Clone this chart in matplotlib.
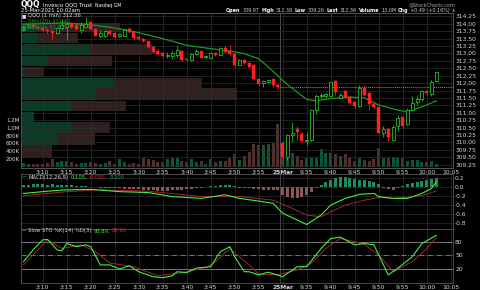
import numpy as np
import matplotlib.pyplot as plt

# one candle per minute: 24 Mar 3:06pm .. 3:59pm, then 25 Mar 9:30am .. 10:02am
opens = [313.80, 313.90, 313.95, 313.88, 313.85, 313.80, 313.77, 313.69, 313.85, 313.90,
         314.02, 313.95, 313.80, 313.90, 314.05, 313.83, 313.60, 313.57, 313.75, 313.68,
         313.58, 313.60, 313.83, 313.72, 313.55, 313.50, 313.41, 313.23, 313.07, 313.02,
         312.90, 312.92, 312.96, 313.08, 312.82, 312.77, 312.99, 313.07, 312.88, 312.86,
         313.02, 312.96, 313.18, 313.07, 312.99, 312.62, 312.77, 312.67, 312.60, 312.15,
         312.00, 312.05, 312.15, 311.95,
         309.97, 309.52, 310.25, 310.45, 310.28, 310.06, 310.08, 311.09, 311.55, 311.55,
         311.57, 312.07, 311.50, 311.73, 311.53, 311.37, 311.22, 311.82, 311.67, 311.31,
         311.18, 310.33, 310.45, 310.10, 310.55, 310.86, 310.62, 311.09, 311.37, 311.45,
         311.72, 311.62, 312.07]
closes = [313.90, 313.95, 313.88, 313.85, 313.80, 313.75, 313.69, 313.85, 313.95, 313.98,
          313.88, 313.82, 313.95, 314.00, 313.83, 313.60, 313.70, 313.75, 313.64, 313.55,
          313.65, 313.80, 313.72, 313.52, 313.49, 313.41, 313.21, 313.04, 312.99, 312.91,
          312.96, 313.00, 313.12, 312.79, 312.77, 312.99, 313.07, 312.86, 312.92, 313.02,
          312.95, 313.19, 313.04, 312.99, 312.62, 312.77, 312.68, 312.54, 312.15, 311.98,
          312.07, 312.12, 311.95, 311.87,
          309.50, 310.25, 310.33, 310.35, 310.06, 310.10, 311.09, 311.56, 311.60, 311.62,
          312.02, 311.70, 311.60, 311.53, 311.33, 311.22, 311.82, 311.59, 311.31, 311.18,
          310.33, 310.45, 310.17, 310.53, 310.83, 310.55, 311.11, 311.33, 311.48, 311.73,
          311.65, 312.05, 312.36]
highs = [313.95, 314.00, 314.05, 313.95, 313.95, 313.85, 313.80, 313.90, 314.15, 314.05,
         314.05, 313.97, 314.05, 314.22, 314.05, 313.85, 313.78, 313.78, 313.78, 313.70,
         313.68, 313.82, 313.88, 313.75, 313.58, 313.52, 313.42, 313.25, 313.15, 313.05,
         313.05, 313.10, 313.25, 313.10, 312.85, 313.02, 313.15, 313.08, 312.95, 313.05,
         313.04, 313.22, 313.25, 313.28, 313.00, 312.80, 312.80, 312.70, 312.65, 312.18,
         312.12, 312.15, 312.18, 311.97,
         310.05, 310.30, 310.70, 310.55, 310.35, 310.35, 311.12, 311.63, 311.65, 311.68,
         312.05, 312.12, 311.65, 311.78, 311.56, 311.40, 311.92, 311.95, 311.70, 311.35,
         311.20, 310.55, 310.50, 310.58, 310.93, 310.90, 311.15, 311.55, 311.60, 311.78,
         311.78, 312.10, 312.38]
lows = [313.75, 313.85, 313.85, 313.80, 313.75, 313.70, 313.47, 313.65, 313.80, 313.44,
        313.85, 313.80, 313.70, 313.88, 313.80, 313.58, 313.52, 313.55, 313.62, 313.52,
        313.55, 313.58, 313.68, 313.50, 313.46, 313.38, 313.18, 313.00, 312.96, 312.88,
        312.85, 312.82, 312.88, 312.75, 312.74, 312.75, 312.95, 312.84, 312.82, 312.84,
        312.92, 312.94, 313.00, 312.95, 312.58, 312.60, 312.65, 312.50, 312.12, 311.92,
        311.88, 312.00, 311.86, 311.80,
        309.26, 309.40, 310.00, 310.10, 310.00, 309.90, 310.05, 310.95, 311.50, 311.50,
        311.55, 311.60, 311.45, 311.48, 311.30, 311.15, 311.20, 311.55, 311.10, 311.15,
        310.30, 310.20, 310.05, 310.05, 310.40, 310.50, 310.58, 311.05, 311.25, 311.40,
        311.60, 311.55, 312.02]
volumes = [85, 70, 60, 70, 70, 100, 200, 110, 150, 150,
           110, 70, 100, 100, 130, 100, 80, 100, 150, 80,
           200, 110, 70, 100, 80, 230, 200, 170, 130, 110,
           190, 230, 230, 150, 110, 190, 130, 150, 80, 200,
           110, 150, 150, 230, 320, 170, 275, 385, 580, 555,
           555, 580, 600, 1100,
           600, 410, 360, 275, 170, 215, 215, 215, 445, 360,
           350, 320, 280, 320, 215, 150, 215, 170, 150, 190,
           470, 215, 215, 250, 215, 230, 150, 170, 170, 130,
           130, 150, 62]   # thousands of shares

sma_idx = [0, 8, 13, 18, 22, 26, 31, 34, 39, 43, 46, 49, 51, 54, 56, 59, 61, 64, 68, 71, 74, 78, 80, 83, 86]
sma_val = [313.98, 314.02, 313.98, 313.88, 313.77, 313.62, 313.41, 313.27, 313.16, 313.08, 312.99, 312.82,
           312.54, 312.09, 311.82, 311.45, 311.40, 311.48, 311.53, 311.50, 311.26, 311.09, 311.03, 311.20, 311.40]
prev_close = 311.87

# volume-by-price bands (price range, up volume, down volume)
band_lo = [313.70, 313.34, 312.93, 312.56, 312.19, 311.83, 311.42, 311.05, 310.68, 310.32, 309.91, 309.51]
band_hi = [314.04, 313.70, 313.34, 312.93, 312.56, 312.19, 311.83, 311.42, 311.05, 310.68, 310.32, 309.91]
band_up = [16, 16, 69, 27, 3, 93, 75, 51, 13, 51, 36, 0]
band_dn = [83, 41, 62, 64, 19, 88, 141, 54, 0, 38, 38, 31]

macd_idx = [0, 5, 9, 14, 20, 26, 31, 37, 42, 45, 49, 52, 54, 57, 59, 62, 64, 67, 70, 73, 74, 77, 80, 83, 85, 86]
macd_val = [-0.15, -0.10, -0.07, -0.06, -0.11, -0.13, -0.22, -0.26, -0.18, -0.26, -0.32, -0.37, -0.59,
            -0.74, -0.84, -0.63, -0.41, -0.26, -0.17, -0.15, -0.22, -0.26, -0.26, -0.15, -0.04, 0.105]
sig_idx = [0, 9, 16, 26, 37, 45, 52, 56, 59, 62, 64, 67, 71, 74, 77, 83, 86]
sig_val = [-0.20, -0.11, -0.07, -0.10, -0.22, -0.22, -0.30, -0.48, -0.63, -0.67, -0.56, -0.41, -0.30,
           -0.24, -0.26, -0.20, -0.095]
hist = [0.03, 0.04, 0.05, 0.05, 0.05, 0.04, 0.05, 0.04, 0.04, 0.03, 0.03, 0.02, 0.01, 0.01, 0.0, -0.01,
        -0.02, -0.03, -0.03, -0.04, -0.04, -0.05, -0.05, -0.06, -0.06, -0.07, -0.08, -0.08, -0.09, -0.09,
        -0.09, -0.08, -0.08, -0.07, -0.06, -0.05, -0.04, -0.03, -0.01, 0.01, 0.02, 0.03, 0.03, 0.03,
        0.02, -0.02, -0.03, -0.04, -0.05, -0.06, -0.07, -0.07, -0.07, -0.07,
        -0.18, -0.24, -0.26, -0.25, -0.22, -0.18, -0.12, -0.04, 0.04, 0.10, 0.15, 0.19, 0.21, 0.21,
        0.20, 0.17, 0.15, 0.14, 0.12, 0.10, 0.05, -0.03, -0.06, -0.07, -0.03, 0.02, 0.05, 0.08, 0.10,
        0.12, 0.15, 0.18, 0.20]

k_idx = [0, 2, 4, 5, 7, 8, 9, 11, 13, 14, 16, 18, 20, 22, 24, 27, 29, 31, 32, 34, 36, 39, 41, 43, 44,
         46, 47, 49, 51, 54, 57, 59, 62, 64, 66, 69, 71, 73, 76, 78, 81, 83, 86]
k_val = [36, 62, 84, 85, 62, 60, 76, 69, 73, 69, 29, 29, 20, 27, 14, 3, 1, 5, 14, 12, 22, 25, 58, 69, 47,
         14, 14, 7, 13, 3, 25, 25, 65, 87, 90, 73, 76, 73, 7, 22, 47, 76, 93.89]
d_idx = [0, 5, 8, 12, 15, 18, 23, 28, 33, 38, 40, 43, 45, 47, 49, 53, 57, 60, 63, 66, 69, 71, 74, 77,
         81, 84, 86]
d_val = [29, 84, 65, 73, 58, 33, 25, 5, 12, 23, 36, 65, 47, 29, 9, 7, 18, 33, 65, 87, 80, 74, 51, 14,
         36, 65, 88.66]

tick_pos = [4, 9, 14, 19, 24, 29, 34, 39, 44, 49, 54, 59, 64, 69, 74, 79, 84, 89]
tick_labels = ['3:10', '3:15', '3:20', '3:25', '3:30', '3:35', '3:40', '3:45', '3:50', '3:55',
               '25Mar', '9:35', '9:40', '9:45', '9:50', '9:55', '10:00', '10:05']

W, H = 480, 290
BG = 'black'
GRID = '#2e2e2e'
TXT = '#d8d8d8'
UP = '#22c022'
DN = '#ff2020'


def fx(x):
    return x / W


def fy(y):
    return 1 - y / H


def panel(top, bottom):
    return [fx(21), fy(bottom), fx(453) - fx(21), fy(top) - fy(bottom)]


fig = plt.figure(figsize=(4.8, 2.9), dpi=100, facecolor=BG)
rend = fig.canvas.get_renderer()


def runs(x, y, items, gap=2.0, end=None):
    # place text pieces one after another, optionally right-aligned to `end`
    objs = []
    for t, kw in items:
        tx = fig.text(fx(x), fy(y), t, va='center', **kw)
        x += tx.get_window_extent(renderer=rend).width + gap
        objs.append(tx)
    if end is not None:
        shift = (end - (x - gap)) / W
        for tx in objs:
            tx.set_x(tx.get_position()[0] + shift)


n = len(closes)
idx = np.arange(n)
opens = np.array(opens)
closes = np.array(closes)
highs = np.array(highs)
lows = np.array(lows)
volumes = np.array(volumes) * 1000
up = closes >= opens
xlim = (-0.52, 89.48)


def style(a):
    a.set_facecolor(BG)
    for s in a.spines.values():
        s.set_color('#555555')
        s.set_linewidth(0.6)
    a.set_xlim(*xlim)
    a.set_xticks(tick_pos)
    a.tick_params(length=0, labelsize=4.3, colors=TXT, pad=1.5)
    a.grid(True, color=GRID, linewidth=0.5)
    a.set_axisbelow(True)
    a.axvline(54 - 0.5, color='#505050', linewidth=0.6, zorder=0.5)


# ---- volume (behind the price panel)
axv = fig.add_axes(panel(12.5, 168))
style(axv)
axv.grid(False)
axv.set_ylim(-33e3, 3967e3)
axv.bar(idx, volumes, width=0.65, color=np.where(up, '#0e5538', '#4e3232'), zorder=1)
axv.set_yticks([200e3, 400e3, 600e3, 800e3, 1.0e6, 1.2e6])
axv.set_yticklabels(['200K', '400K', '600K', '800K', '1.0M', '1.2M'])
axv.tick_params(labelsize=4.0, pad=1)
axv.set_xticklabels([])

# ---- price panel
ax = fig.add_axes(panel(12.5, 168))
style(ax)
ax.set_facecolor('none')
ax.set_ylim(309.141, 314.376)
ax.yaxis.tick_right()
pt = np.arange(309.25, 314.26, 0.25)
ax.set_yticks(pt)
ax.set_yticklabels(['%.2f' % p for p in pt])
ax.set_xticklabels(tick_labels)
for lab in ax.get_xticklabels():
    if lab.get_text() == '25Mar':
        lab.set_fontweight('bold')

scale = 1 / 4.8
for lo, hi, u, d in zip(band_lo, band_hi, band_up, band_dn):
    ax.barh((lo + hi) / 2, u * scale, height=(hi - lo) * 0.96, left=xlim[0], color='#0c3a26', zorder=0.3)
    ax.barh((lo + hi) / 2, d * scale, height=(hi - lo) * 0.96, left=xlim[0] + u * scale, color='#2f1f1f', zorder=0.3)

ax.plot([54 - 0.5, xlim[1]], [prev_close, prev_close], color='#888888', linestyle=(0, (1, 1)), linewidth=0.7, zorder=2)
ax.plot(sma_idx, sma_val, color='#1a9a1a', linewidth=0.9, zorder=3)

col = np.where(up, UP, DN)
ax.vlines(idx, lows, highs, colors=col, linewidth=0.6, zorder=4)
body_lo = np.minimum(opens, closes)
body_h = np.maximum(np.abs(closes - opens), 0.012)
ax.bar(idx[up], body_h[up], bottom=body_lo[up], width=0.6, facecolor=BG, edgecolor=UP, linewidth=0.6, zorder=5)
ax.bar(idx[~up], body_h[~up], bottom=body_lo[~up], width=0.6, color=DN, edgecolor=DN, linewidth=0.3, zorder=5)

# ---- MACD panel
axm = fig.add_axes(panel(174, 228.5))
style(axm)
axm.set_ylim(-0.929, 0.282)
axm.yaxis.tick_right()
axm.set_yticks([-0.8, -0.6, -0.4, -0.2, 0.0, 0.2])
axm.set_yticklabels(['-0.8', '-0.6', '-0.4', '-0.2', '0.0', '0.2'])
axm.set_xticklabels([])
hist = np.array(hist)
axm.bar(idx, hist, width=0.65, color=np.where(hist >= 0, '#1f8a5e', '#8a5656'), zorder=2)
axm.plot(sig_idx, sig_val, color='#a02828', linewidth=0.7, zorder=3)
axm.plot(macd_idx, macd_val, color='#44ee44', linewidth=0.8, zorder=4)

# ---- Slow stochastics panel
axs = fig.add_axes(panel(228.5, 282.5))
style(axs)
axs.set_ylim(-9.7, 109)
axs.yaxis.tick_right()
axs.set_yticks([20, 50, 80])
axs.set_yticklabels(['20', '50', '80'])
axs.set_xticklabels(tick_labels)
for lab in axs.get_xticklabels():
    if lab.get_text() == '25Mar':
        lab.set_fontweight('bold')
axs.grid(False, axis='y')
axs.axhline(80, color='#8a8a8a', linewidth=0.6)
axs.axhline(20, color='#8a8a8a', linewidth=0.6)
axs.axhline(50, color='#8a8a8a', linewidth=0.6, linestyle='-.')
axs.plot(d_idx, d_val, color='#a02828', linewidth=0.7, zorder=3)
axs.plot(k_idx, k_val, color='#44ee44', linewidth=0.8, zorder=4)

# ---- header and legends
runs(21, 5, [('QQQ', dict(fontsize=5.5, fontweight='bold', color='white')),
             ('Invesco QQQ Trust', dict(fontsize=3.9, color='white')),
             ('Nasdaq GM', dict(fontsize=3.3, color='white'))], gap=2.5)
fig.text(fx(21), fy(10.5), '25-Mar-2021 10:02am', fontsize=3.8, color='white', va='center')
fig.text(fx(455), fy(4.5), '@StockCharts.com', fontsize=3.5, color='#aaaaaa', va='center', ha='right')

B = dict(fontsize=3.5, color='white', fontweight='bold')
V = dict(fontsize=3.5, color='#cccccc')
runs(0, 10.5, [('Open', B), ('309.97', V), ('High', B), ('312.38', V), ('Low', B), ('309.26', V),
               ('Last', B), ('312.36', V), ('Volume', B), ('13.0M', V), ('Chg', B),
               ('+0.49 (+0.16%)', V)], gap=1.8, end=450)
fig.text(fx(454), fy(10.5), '\u25b2', fontsize=3.0, color='#22c022', va='center', ha='center')

L = dict(fontsize=3.8, color=TXT)
runs(22, 16, [('\u25a0', dict(fontsize=3.3, color=TXT)), ('QQQ (1 min) 312.36', L)], gap=1.5)
runs(22, 21.5, [('\u2014', dict(fontsize=3.3, color='#1a9a1a')),
                ('SMA(20) 311.40', dict(fontsize=3.8, color='#1a9a1a'))], gap=1.5)
runs(22, 27, [('\u25a0', dict(fontsize=3.3, color='#1f8a5e')),
              ('Volume 61,612', dict(fontsize=3.8, color='#1f8a5e'))], gap=1.5)

runs(22, 177.3, [('\u2014', dict(fontsize=3.3, color='#44ee44')), ('MACD(12,26,9)', L),
                 ('0.105,', dict(fontsize=3.8, color='#44ee44')),
                 ('-0.095,', dict(fontsize=3.8, color='#d03030')),
                 ('0.200', dict(fontsize=3.8, color='#1f9a6a'))], gap=1.8)
runs(22, 230.8, [('\u2014', dict(fontsize=3.3, color='#44ee44')), ('Slow STO %K(14) %D(3)', L),
                 ('93.89,', dict(fontsize=3.8, color='#44ee44')),
                 ('88.66', dict(fontsize=3.8, color='#d03030'))], gap=1.8)

fig.savefig('out.png', dpi=100, facecolor=BG)
